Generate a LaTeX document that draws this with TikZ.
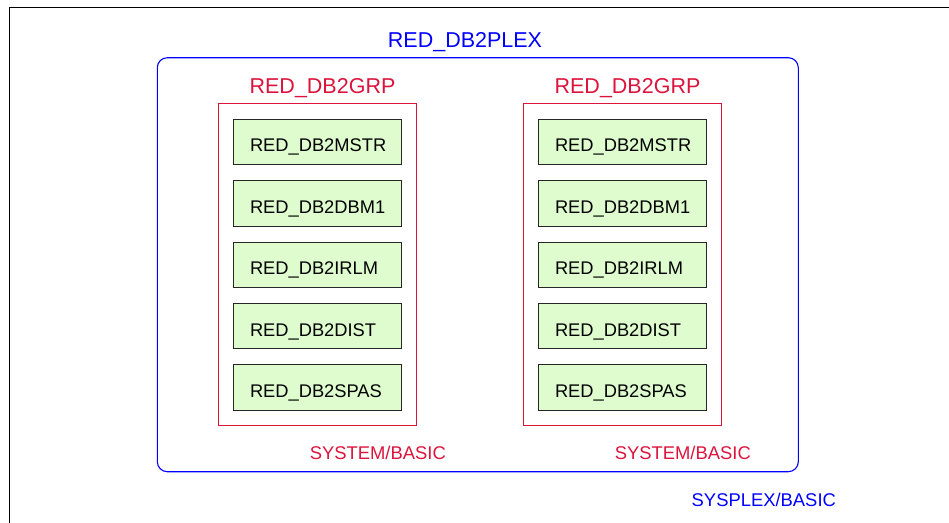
\documentclass[tikz,border=0pt]{standalone}
\usepackage{fontspec}
\setmainfont{Liberation Sans}
\definecolor{crim}{RGB}{220,20,60}
\definecolor{pblue}{RGB}{0,0,255}
\definecolor{lgreen}{RGB}{222,252,206}
\begin{document}
\begin{tikzpicture}[x=1pt,y=-1pt,
  comp/.style={draw=black!85,fill=lgreen,line width=0.9pt,inner xsep=16.7pt,inner ysep=0pt,
    text width=135pt,align=left,text height=25pt,text depth=5pt,minimum height=45.4pt,
    font=\fontsize{18.3}{20}\selectfont},
  grparea/.style={minimum width=198pt,minimum height=322pt,inner sep=0pt},
  grpline/.style={draw=crim,line width=1.3pt},
  plexbox/.style={draw=pblue,line width=1.1pt,rounded corners=10pt},
  bigred/.style={text=crim,inner sep=0pt,anchor=base,font=\fontsize{21.5}{24}\selectfont},
  bigblue/.style={text=pblue,inner sep=0pt,anchor=base,font=\fontsize{21.5}{24}\selectfont},
  smallred/.style={text=crim,inner sep=0pt,anchor=base,font=\fontsize{18.4}{22}\selectfont},
  smallblue/.style={text=pblue,inner sep=0pt,anchor=base,font=\fontsize{18.4}{22}\selectfont},
  frame/.style={draw=black,line width=1pt}]
\useasboundingbox (0,0) rectangle (949,522);
% outer frame
\coordinate (fbl) at (9.3,530);
\coordinate (ftl) at (9.3,7.7);
\coordinate (ftr) at (960,7.7);
\draw[frame] (fbl) -- (ftl) -- (ftr);
% plex container
\coordinate (plexnw) at (157.3,57.7);
\coordinate (plexse) at (798.3,471.7);
\draw[plexbox] (plexnw) rectangle (plexse);
% group containers
\node[grparea] (grpB) at (622.5,264.5) {};
\node[grparea] (grpA) at (317.5,264.5) {};
\begin{scope}[crim]
\draw[grpline] (grpB.north west) rectangle (grpB.south east);
\end{scope}
\begin{scope}[crim]
\draw[grpline] (grpA.north west) rectangle (grpA.south east);
\end{scope}
% labels
\node[bigblue] (plexlabel) at (465,47.3) {RED\_DB2PLEX};
\node[smallblue] (sysplexlabel) at (763.8,506.7) {SYSPLEX/BASIC};
\node[bigred] (grpAlabel) at (322.5,93.3) {RED\_DB2GRP};
\node[smallred] (sysAlabel) at (377.8,459.3) {SYSTEM/BASIC};
\node[bigred] (grpBlabel) at (627.5,93.3) {RED\_DB2GRP};
\node[smallred] (sysBlabel) at (682.8,459.3) {SYSTEM/BASIC};
% components A
\node[comp] (A1) at (317.5,141.65) {RED\_DB2MSTR};
\node[comp] (A2) at (317.5,203.3) {RED\_DB2DBM1};
\node[comp] (A3) at (317.5,264.85) {RED\_DB2IRLM};
\node[comp] (A4) at (317.5,326.1) {RED\_DB2DIST};
\node[comp] (A5) at (317.5,387.6) {RED\_DB2SPAS};
% components B
\node[comp] (B1) at (622.5,141.65) {RED\_DB2MSTR};
\node[comp] (B2) at (622.5,203.3) {RED\_DB2DBM1};
\node[comp] (B3) at (622.5,264.85) {RED\_DB2IRLM};
\node[comp] (B4) at (622.5,326.1) {RED\_DB2DIST};
\node[comp] (B5) at (622.5,387.6) {RED\_DB2SPAS};
\end{tikzpicture}
\end{document}
